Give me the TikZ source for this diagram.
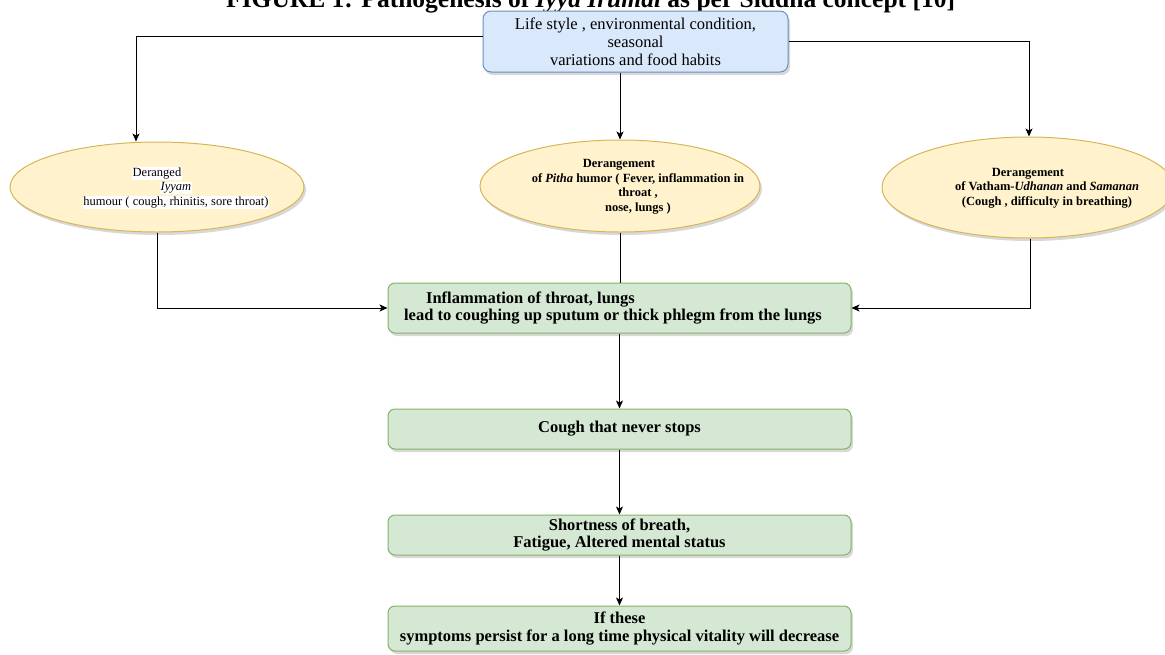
\documentclass[tikz,border=0pt]{standalone}
\usepackage{fontspec}
\setmainfont{Liberation Serif}
\usetikzlibrary{arrows.meta,shapes.geometric,shadows}
\definecolor{bluefill}{HTML}{DAE8FC}
\definecolor{bluedraw}{HTML}{6C8EBF}
\definecolor{yelfill}{HTML}{FFF2CC}
\definecolor{yeldraw}{HTML}{D6B656}
\definecolor{grnfill}{HTML}{D5E8D4}
\definecolor{grndraw}{HTML}{82B366}
\newcommand{\wbg}[1]{{\setlength{\fboxsep}{0.6pt}\colorbox{white}{#1}}}
\begin{document}
\begin{tikzpicture}[x=1pt,y=-1pt,
  dshadow/.style={drop shadow={shadow xshift=2pt,shadow yshift=-3pt,opacity=0.22,fill=black!70}},
  bluebox/.style={draw=bluedraw,fill=bluefill,rounded corners=8pt,line width=1pt,inner sep=0pt,dshadow,align=center,font=\fontsize{16.5}{18}\selectfont},
  grnbox/.style={draw=grndraw,fill=grnfill,rounded corners=7pt,line width=1pt,inner sep=0pt,dshadow,align=center,minimum width=463pt,font=\bfseries\fontsize{16.5}{17.5}\selectfont},
  ell/.style={ellipse,draw=yeldraw,fill=yelfill,line width=1pt,inner sep=0pt,dshadow},
  etext/.style={align=center,inner sep=0pt,font=\fontsize{12.5}{14.5}\selectfont},
  arr/.style={-{Stealth[length=8pt,width=7pt,inset=2pt]},line width=1pt},
  conn/.style={line width=1pt}
]
\useasboundingbox (0,0) rectangle (1165,654);

% title (cropped at top)
\node[anchor=base west,inner sep=0pt,font=\bfseries\fontsize{25.5}{30}\selectfont] (title) at (226,7)
  {FIGURE 1: Pathogenesis of \textit{Iyya Irumal} as per Siddha concept [10]};

% top box
\node[bluebox,minimum width=305pt,minimum height=61pt] (top) at (635.5,41.5)
  {Life style , environmental condition,\\seasonal\\variations and food habits};

% ellipses
\node[ell,minimum width=294pt,minimum height=90pt] (el1) at (157,187) {};
\node[ell,minimum width=280pt,minimum height=92pt] (el2) at (620,186) {};
\node[ell,minimum width=292pt,minimum height=101pt] (el3) at (1028,187.5) {};

\node[etext] (el1t) at (176,188)
  {\wbg{Deranged}\hspace*{38pt}\mbox{}\\ \wbg{\itshape Iyyam}\\ \wbg{humour ( cough, rhinitis, sore throat)}};
\node[etext,font=\bfseries\fontsize{12.5}{14.5}\selectfont] (el2t) at (638,187)
  {Derangement\hspace*{38pt}\mbox{}\\ of \textit{Pitha} humor ( Fever, inflammation in\\ throat ,\\ nose, lungs )};
\node[etext,font=\bfseries\fontsize{12.5}{14.5}\selectfont] (el3t) at (1047,188)
  {Derangement\hspace*{38pt}\mbox{}\\ of Vatham-\textit{Udhanan} and \textit{Samanan}\\ (Cough , difficulty in breathing)};

% green boxes
\node[grnbox,minimum height=50pt,align=left] (g1) at (619.5,308)
  {\hspace*{22pt}Inflammation of throat, lungs\\lead to coughing up sputum or thick phlegm from the lungs\hspace*{13pt}\mbox{}};
\node[grnbox,minimum height=40pt] (g2) at (619.5,429) {Cough that never stops};
\node[grnbox,minimum height=40pt] (g3) at (619.5,535) {Shortness of breath,\\Fatigue, Altered mental status};
\node[grnbox,minimum height=45pt] (g4) at (619.5,628.5) {If these\\symptoms persist for a long time physical vitality will decrease};

% connectors
\draw[arr] ([yshift=5.5pt]top.west) -| ([xshift=-21pt]el1.north);
\draw[arr] (top.east) -| ([xshift=1pt]el3.north);
\draw[arr] (el2.north |- top.south) -- (el2.north);
\draw[arr] (el1.south) |- (g1.west);
\draw[arr] ([xshift=2pt]el3.south) |- (g1.east);
\draw[conn] (el2.south) -- (el2.south |- g1.north);
\draw[arr] (g1) -- (g2);
\draw[arr] (g2) -- (g3);
\draw[arr] (g3) -- (g4);
\end{tikzpicture}
\end{document}
